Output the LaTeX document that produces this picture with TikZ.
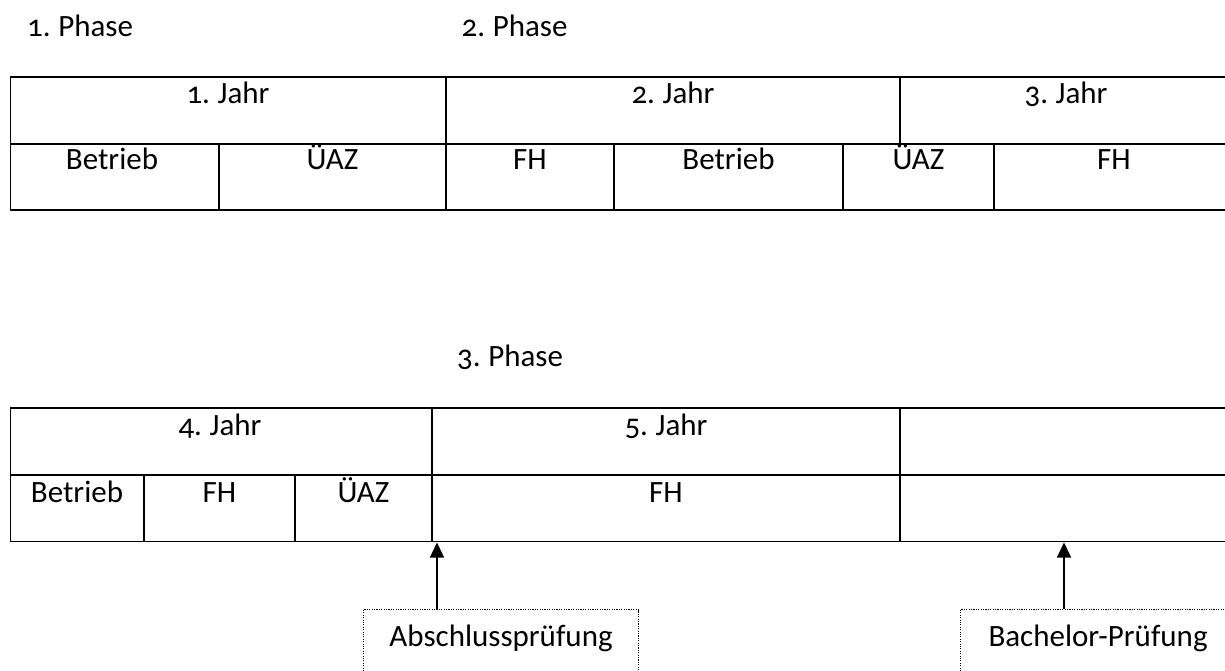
\documentclass[tikz,border=0pt]{standalone}
\usepackage{fontspec}
\setmainfont[Numbers=OldStyle,WordSpace=0.75]{Carlito}
\usetikzlibrary{arrows.meta}
\tikzset{
  grid/.style={line width=1.7pt, line cap=rect},
  lbl/.style={anchor=base, inner sep=0pt, font=\fontsize{31}{36}\selectfont},
  phase/.style={anchor=base west, inner sep=0pt, font=\fontsize{31}{36}\selectfont},
  exambox/.style={draw, line width=1.1pt, dash pattern=on 1.1pt off 1.3pt, inner sep=0pt,
    minimum width=275pt, text height=37pt, text depth=39pt, anchor=north west,
    font=\fontsize{31}{36}\selectfont},
  arr/.style={line width=1.4pt, -{Triangle[length=15pt,width=14pt]}}
}
\begin{document}
\begin{tikzpicture}[x=1pt,y=-1pt]
\useasboundingbox (0,0) rectangle (1225,670);
\clip (0,0) rectangle (1225,670);
\fill[white] (0,0) rectangle (1225,670);

% phase labels
\node[phase] (p1) at (27,36.5) {1. Phase};
\node[phase] (p2) at (461.5,36.5) {2. Phase};
\node[phase] (p3) at (457,366) {3. Phase};

% top table
\draw[grid] (10.5,77) -- (1240,77);
\draw[grid] (10.5,144) -- (1240,144);
\draw[grid] (10.5,210) -- (1240,210);
\draw[grid] (10.5,77) -- (10.5,210);
\draw[grid] (446,77) -- (446,210);
\draw[grid] (900,77) -- (900,144);
\draw[grid] (219,144) -- (219,210);
\draw[grid] (614,144) -- (614,210);
\draw[grid] (843,144) -- (843,210);
\draw[grid] (994,144) -- (994,210);

\node[lbl] (j1) at (228,103) {1. Jahr};
\node[lbl] (j2) at (673,103) {2. Jahr};
\node[lbl] (j3) at (1066,103) {3. Jahr};
\node[lbl] (a1) at (112,169) {Betrieb};
\node[lbl] (a2) at (332.5,169) {ÜAZ};
\node[lbl] (a3) at (530,169) {FH};
\node[lbl] (a4) at (728.5,169) {Betrieb};
\node[lbl] (a5) at (918.5,169) {ÜAZ};
\node[lbl] (a6) at (1114,169) {FH};

% bottom table
\draw[grid] (10.5,408) -- (1240,408);
\draw[grid] (10.5,475) -- (1240,475);
\draw[grid] (10.5,541.5) -- (1240,541.5);
\draw[grid] (10.5,408) -- (10.5,541.5);
\draw[grid] (432,408) -- (432,541.5);
\draw[grid] (900,408) -- (900,541.5);
\draw[grid] (144,475) -- (144,541.5);
\draw[grid] (295,475) -- (295,541.5);

\node[lbl] (j4) at (220,435) {4. Jahr};
\node[lbl] (j5) at (666,435) {5. Jahr};
\node[lbl] (b1) at (77,502) {Betrieb};
\node[lbl] (b2) at (219.5,502) {FH};
\node[lbl] (b3) at (363.5,502) {ÜAZ};
\node[lbl] (b4) at (666,502) {FH};

% exam boxes
\node[exambox] (abs) at (363,609) {Abschlussprüfung};
\node[exambox] (bach) at (960,609) {Bachelor-Prüfung};

\coordinate (t1) at (437,542.5);
\coordinate (t2) at (1064,542.5);
\draw[arr] (abs.north -| t1) -- (t1);
\draw[arr] (bach.north -| t2) -- (t2);
\end{tikzpicture}
\end{document}
